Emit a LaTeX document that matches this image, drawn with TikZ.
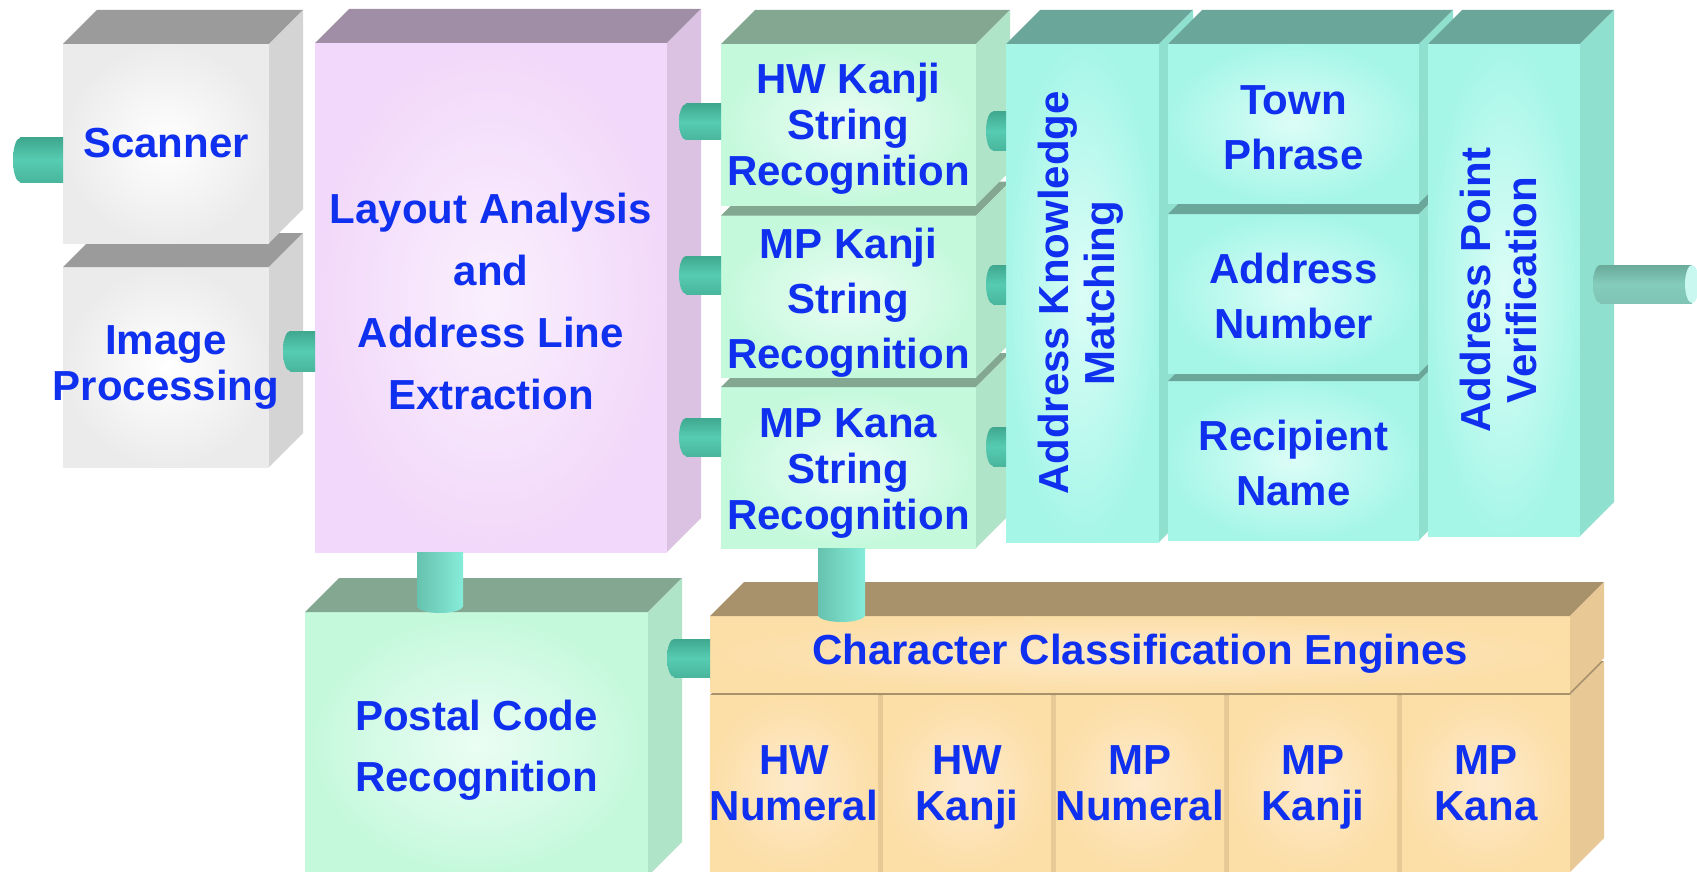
\documentclass[tikz,border=0pt]{standalone}
\usepackage{fontspec}
\setmainfont{Liberation Sans}
\usepackage{graphicx}
\usetikzlibrary{calc}
\definecolor{TxtBlue}{HTML}{1030F0}
\definecolor{GrayOut}{HTML}{EBEBEB}
\definecolor{GrayIn}{HTML}{FFFFFF}
\definecolor{GrayTop}{HTML}{9B9B9B}
\definecolor{GraySide}{HTML}{D4D4D4}
\definecolor{LilacOut}{HTML}{F2D8FA}
\definecolor{LilacIn}{HTML}{FAF0FD}
\definecolor{LilacTop}{HTML}{A08EA6}
\definecolor{LilacSide}{HTML}{DBC2E3}
\definecolor{MintOut}{HTML}{C4F9DB}
\definecolor{MintIn}{HTML}{EBFDF4}
\definecolor{MintTop}{HTML}{84A791}
\definecolor{MintSide}{HTML}{B0E4C8}
\definecolor{AquaOut}{HTML}{A6F6E8}
\definecolor{AquaIn}{HTML}{DCFDF7}
\definecolor{AquaTop}{HTML}{6AA69A}
\definecolor{AquaSide}{HTML}{90E0D0}
\definecolor{PeachOut}{HTML}{FCDEA7}
\definecolor{PeachIn}{HTML}{FEEBCC}
\definecolor{PeachTop}{HTML}{A8926C}
\definecolor{PeachSide}{HTML}{E8C995}
\definecolor{PipeTop}{HTML}{3FA88F}
\definecolor{PipeMid}{HTML}{56CCB2}
\definecolor{PipeLow}{HTML}{49B69D}
\definecolor{VPipeL}{HTML}{66C2AE}
\definecolor{VPipeR}{HTML}{86ECD9}
\definecolor{OutTop}{HTML}{6AAA99}
\definecolor{OutMid}{HTML}{84CCBC}
\definecolor{OutLow}{HTML}{7FC4B4}
\definecolor{OutCap}{HTML}{C8F8F0}
\tikzset{
  face/.style={rectangle, inner sep=0pt, outer sep=0pt, align=center,
    text=TxtBlue, font=\bfseries\fontsize{42}{46}\selectfont},
  grayface/.style={face, inner color=GrayIn, outer color=GrayOut},
  lilacface/.style={face, inner color=LilacIn, outer color=LilacOut},
  mintface/.style={face, inner color=MintIn, outer color=MintOut},
  aquaface/.style={face, inner color=AquaIn, outer color=AquaOut},
  peachface/.style={face, inner color=PeachIn, outer color=PeachOut},
  pipe/.style={top color=PipeTop, bottom color=PipeLow, middle color=PipeMid},
  vpipe/.style={left color=VPipeL, right color=VPipeR},
  outpipe/.style={top color=OutTop, bottom color=OutLow, middle color=OutMid}
}
% top and side of a block: node, top colour, side colour
\newcommand{\cubefaces}[3]{%
  \fill[#2] (#1.north west) -- ++(34,-34) -- ($(#1.north east)+(34,-34)$) -- (#1.north east) -- cycle;
  \fill[#3] (#1.north east) -- ++(34,-34) -- ($(#1.south east)+(34,-34)$) -- (#1.south east) -- cycle;}
% pipe going left from a face: anchor, y offset, length, half thickness
\newcommand{\hpipe}[4]{%
  \shade[pipe] ($(#1)+(-#3,#2-#4)$) rectangle ($(#1)+(0,#2+#4)$);
  \shade[pipe] ($(#1)+(-#3,#2)$) ellipse [x radius=7, y radius=#4];}
% pipe going down from a face: anchor, x offset, length, half width
\newcommand{\vpipe}[4]{%
  \shade[vpipe] ($(#1)+(#2-#4,0)$) rectangle ($(#1)+(#2+#4,#3)$);
  \shade[vpipe] ($(#1)+(#2,#3)$) ellipse [x radius=#4, y radius=7];}

\begin{document}
\begin{tikzpicture}[x=1pt, y=-1pt]
\useasboundingbox (0,0) rectangle (1697,872);

% input side
\node[grayface, minimum width=206, minimum height=200] (improc) at (166,367) {};
\cubefaces{improc}{GrayTop}{GraySide}
\node[face] (improctext) at (improc.center) {Image\\\makebox[0pt]{Processing}};
\node[grayface, minimum width=206, minimum height=199] (scan) at (166,143.5) {Scanner};
\cubefaces{scan}{GrayTop}{GraySide}
\hpipe{scan.west}{16.5}{43}{22}

\node[lilacface, minimum width=352, minimum height=509] (layout) at (491,297.5)
  {\rule{0pt}{39pt}Layout Analysis\\[16pt]and\\[16pt]Address Line\\[16pt]Extraction};
\cubefaces{layout}{LilacTop}{LilacSide}
\hpipe{layout.west}{53.5}{25}{20}

% string recognition
\node[mintface, minimum width=255, minimum height=161] (mpkana) at (848.5,467.5) {\rule{0pt}{40pt}MP Kana\\String\\Recognition};
\cubefaces{mpkana}{MintTop}{MintSide}
\node[mintface, minimum width=255, minimum height=161] (mpks) at (848.5,296.5) {\rule{0pt}{43pt}MP Kanji\\[9pt]String\\[9pt]Recognition};
\cubefaces{mpks}{MintTop}{MintSide}
\node[mintface, minimum width=255, minimum height=161] (hwks) at (848.5,124.5) {\rule{0pt}{39pt}HW Kanji\\String\\Recognition};
\cubefaces{hwks}{MintTop}{MintSide}
\hpipe{hwks.west}{-2.5}{35}{18}
\hpipe{mpks.west}{-21.5}{35}{19}
\hpipe{mpkana.west}{-30.5}{35}{19}

% address matching
\node[aquaface, minimum width=153, minimum height=498] (akm) at (1082.5,293)
  {\rotatebox{90}{\begin{tabular}{@{}c@{}}Address Knowledge\\Matching\end{tabular}}};
\cubefaces{akm}{AquaTop}{AquaSide}
\hpipe{akm.west}{-162}{13}{19.5}
\hpipe{akm.west}{-8.5}{13}{19.5}
\hpipe{akm.west}{153.5}{13}{19.5}

\node[aquaface, minimum width=251, minimum height=159] (recip) at (1293.5,460.5) {\rule{0pt}{36pt}Recipient\\[9pt]Name};
\cubefaces{recip}{AquaTop}{AquaSide}
\node[aquaface, minimum width=251, minimum height=159] (addrnum) at (1293.5,293.5) {\rule{0pt}{36pt}Address\\[9pt]Number};
\cubefaces{addrnum}{AquaTop}{AquaSide}
\node[aquaface, minimum width=251, minimum height=159] (town) at (1293.5,123.5) {\rule{0pt}{37pt}Town\\[9pt]Phrase};
\cubefaces{town}{AquaTop}{AquaSide}

\node[aquaface, minimum width=152, minimum height=492] (apv) at (1504,290)
  {\rotatebox{90}{\begin{tabular}{@{}c@{}}Address Point\\Verification\end{tabular}}};
\cubefaces{apv}{AquaTop}{AquaSide}
\shade[outpipe] ($(apv.east)+(20,-25)$) rectangle ($(apv.east)+(112,13)$);
\shade[outpipe] ($(apv.east)+(20,-6)$) ellipse [x radius=7, y radius=19];
\fill[OutCap] ($(apv.east)+(112,-6)$) ellipse [x radius=7, y radius=19];

% postal code
\node[mintface, minimum width=343, minimum height=264] (postal) at (476.5,744) {\rule{0pt}{42pt}Postal Code\\[15pt]Recognition};
\cubefaces{postal}{MintTop}{MintSide}
\vpipe{layout.south}{-51}{54}{23}

% classification engines
\node[face, fill=PeachSide, minimum width=860, minimum height=177] (engines) at (1140,783.5) {};
\cubefaces{engines}{PeachTop}{PeachSide}
\node[peachface, minimum width=168, minimum height=177] (hwnum) at (794,783.5) {HW\\Numeral};
\node[peachface, minimum width=168, minimum height=177] (hwkanji) at (967,783.5) {HW\\\smash{Kanji}};
\node[peachface, minimum width=168, minimum height=177] (mpnum) at (1140,783.5) {MP\\Numeral};
\node[peachface, minimum width=168, minimum height=177] (mpkanji) at (1313,783.5) {MP\\\smash{Kanji}};
\node[peachface, minimum width=168, minimum height=177] (mpkanacell) at (1486,783.5) {MP\\Kana};
\node[peachface, minimum width=860, minimum height=76] (cce) at (1140,654) {Character Classification Engines};
\cubefaces{cce}{PeachTop}{PeachSide}
\vpipe{mpkana.south}{-7}{67}{23.5}
\hpipe{cce.west}{4}{36}{19}
\end{tikzpicture}
\end{document}
